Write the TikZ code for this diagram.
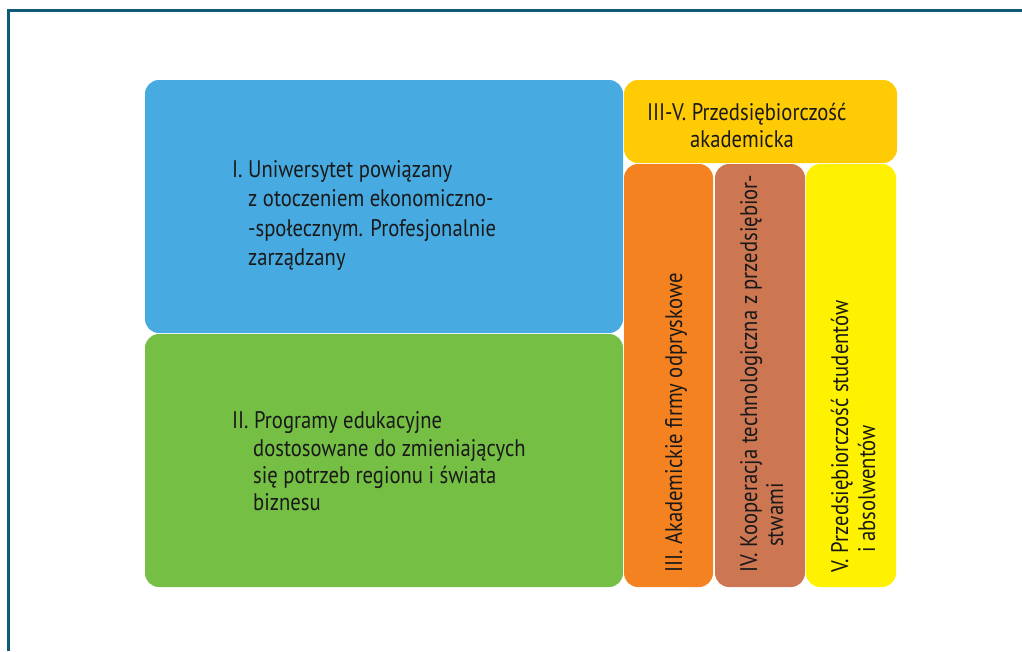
\documentclass[tikz,border=0pt]{standalone}
\usepackage{fontspec}
\setmainfont[FakeStretch=0.86]{PT Sans}
\begin{document}
\begin{tikzpicture}[x=1pt,y=-1pt,
  panel/.style={fill=#1, draw=none, rounded corners=14pt},
  txt/.style={anchor=base west, inner sep=0pt, text=black!90,
    font=\fontsize{24}{28}\selectfont},
  vtxt/.style={txt, rotate=90}]
\definecolor{frame}{HTML}{0E5A78}
\definecolor{pblue}{HTML}{47ABE1}
\definecolor{pgreen}{HTML}{74BF44}
\definecolor{pgold}{HTML}{FFCB05}
\definecolor{porange}{HTML}{F58220}
\definecolor{pbrown}{HTML}{CD7752}
\definecolor{pyellow}{HTML}{FFF200}
\useasboundingbox (0,0) rectangle (1022,651);
% open frame: top and left edges only
\draw[frame, line width=3pt] (1022,10) -- (8,10) -- (8,651);
% panels
\path[panel=pblue]   (145,80)  rectangle (623,333);
\path[panel=pgreen]  (145,334) rectangle (623,587);
\path[panel=pgold]   (624,80)  rectangle (897,163);
\path[panel=porange] (624,164) rectangle (713,587);
\path[panel=pbrown]  (715,164) rectangle (805,587);
\path[panel=pyellow] (806,164) rectangle (896,587);
% panel I
\node[txt] (a1) at (232,177) {I. Uniwersytet powiązany};
\node[txt] (a2) at (248,206) {z otoczeniem ekonomiczno-};
\node[txt] (a3) at (248,236) {-społecznym. Profesjonalnie};
\node[txt] (a4) at (248,265) {zarządzany};
% panel II
\node[txt] (b1) at (232,428) {II. Programy edukacyjne};
\node[txt] (b2) at (253,456) {dostosowane do zmieniających};
\node[txt] (b3) at (253,483) {się potrzeb regionu i świata};
\node[txt] (b4) at (253,510) {biznesu};
% panel III-V
\node[txt] (c1) at (647,120) {III-V. Przedsiębiorczość};
\node[txt] (c2) at (690,147) {akademicka};
% vertical columns
\node[vtxt] (d1) at (682,573) {III. Akademickie firmy odpryskowe};
\node[vtxt] (e1) at (757,573) {IV. Kooperacja technologiczna z przedsiębior-};
\node[vtxt] (e2) at (783,547) {stwami};
\node[vtxt] (f1) at (848,573) {V. Przedsiębiorczość studentów};
\node[vtxt] (f2) at (875,553) {i absolwentów};
\end{tikzpicture}
\end{document}
